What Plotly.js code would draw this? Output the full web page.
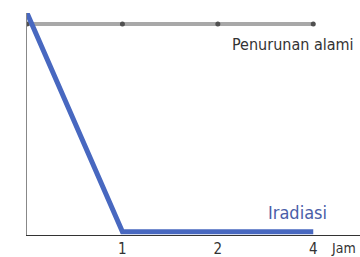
<!DOCTYPE html>
<html><head><meta charset="utf-8">
<script src="https://cdn.plot.ly/plotly-3.0.1.min.js"></script>
<style>html,body{margin:0;padding:0;background:#fff}#c{width:360px;height:257px}</style>
</head><body><div id="c"></div>
<script>
const xPos = [0, 1, 2, 3];
const tickLabels = ['', '1', '2', '4'];
const alami = [95, 95, 95, 95];
const iradiasi = [100, 1.5, 1.5, 1.5];
const nameAlami = 'Penurunan alami';
const nameIradiasi = 'Iradiasi';
const unitLabel = 'Jam';

const FONT = '"DejaVu Sans Condensed", "Liberation Sans Narrow", "Liberation Sans", sans-serif';
const traces = [
  {x: xPos, y: alami, mode: 'lines+markers', line: {color: '#a8a8a8', width: 4},
   marker: {color: '#505050', size: 5}, hoverinfo: 'skip'},
  {x: xPos, y: iradiasi, mode: 'lines', line: {color: '#4868c0', width: 5}, hoverinfo: 'skip'}
];
const layout = {
  width: 360, height: 257, showlegend: false,
  margin: {l: 27, r: 0, t: 13, b: 22},
  paper_bgcolor: '#fff', plot_bgcolor: '#fff',
  font: {family: FONT, color: '#333'},
  xaxis: {range: [0, 3.49], tickvals: xPos, ticktext: tickLabels, showgrid: false, zeroline: false,
          showline: true, linecolor: '#333', linewidth: 1, ticks: '', tickfont: {size: 15, color: '#333'}, fixedrange: true},
  yaxis: {range: [0, 100], showgrid: false, zeroline: false, showline: true, linecolor: '#888', linewidth: 1,
          showticklabels: false, ticks: '', fixedrange: true},
  annotations: [
    {x: 1, xref: 'paper', xanchor: 'right', xshift: -4, y: 86, yref: 'y', yanchor: 'middle', text: nameAlami, showarrow: false,
     font: {size: 16, color: '#333'}},
    {x: 2.84, xref: 'x', xanchor: 'center', y: 10, yref: 'y', yanchor: 'middle', text: nameIradiasi, showarrow: false,
     font: {size: 18, color: '#4a5ea8'}},
    {x: 3.2, xref: 'x', xanchor: 'left', xshift: -3, y: 0, yref: 'y', yanchor: 'top', yshift: -3, text: unitLabel, showarrow: false,
     font: {size: 14, color: '#333'}}
  ]
};
Plotly.newPlot('c', traces, layout, {staticPlot: true, displayModeBar: false});
</script></body></html>
